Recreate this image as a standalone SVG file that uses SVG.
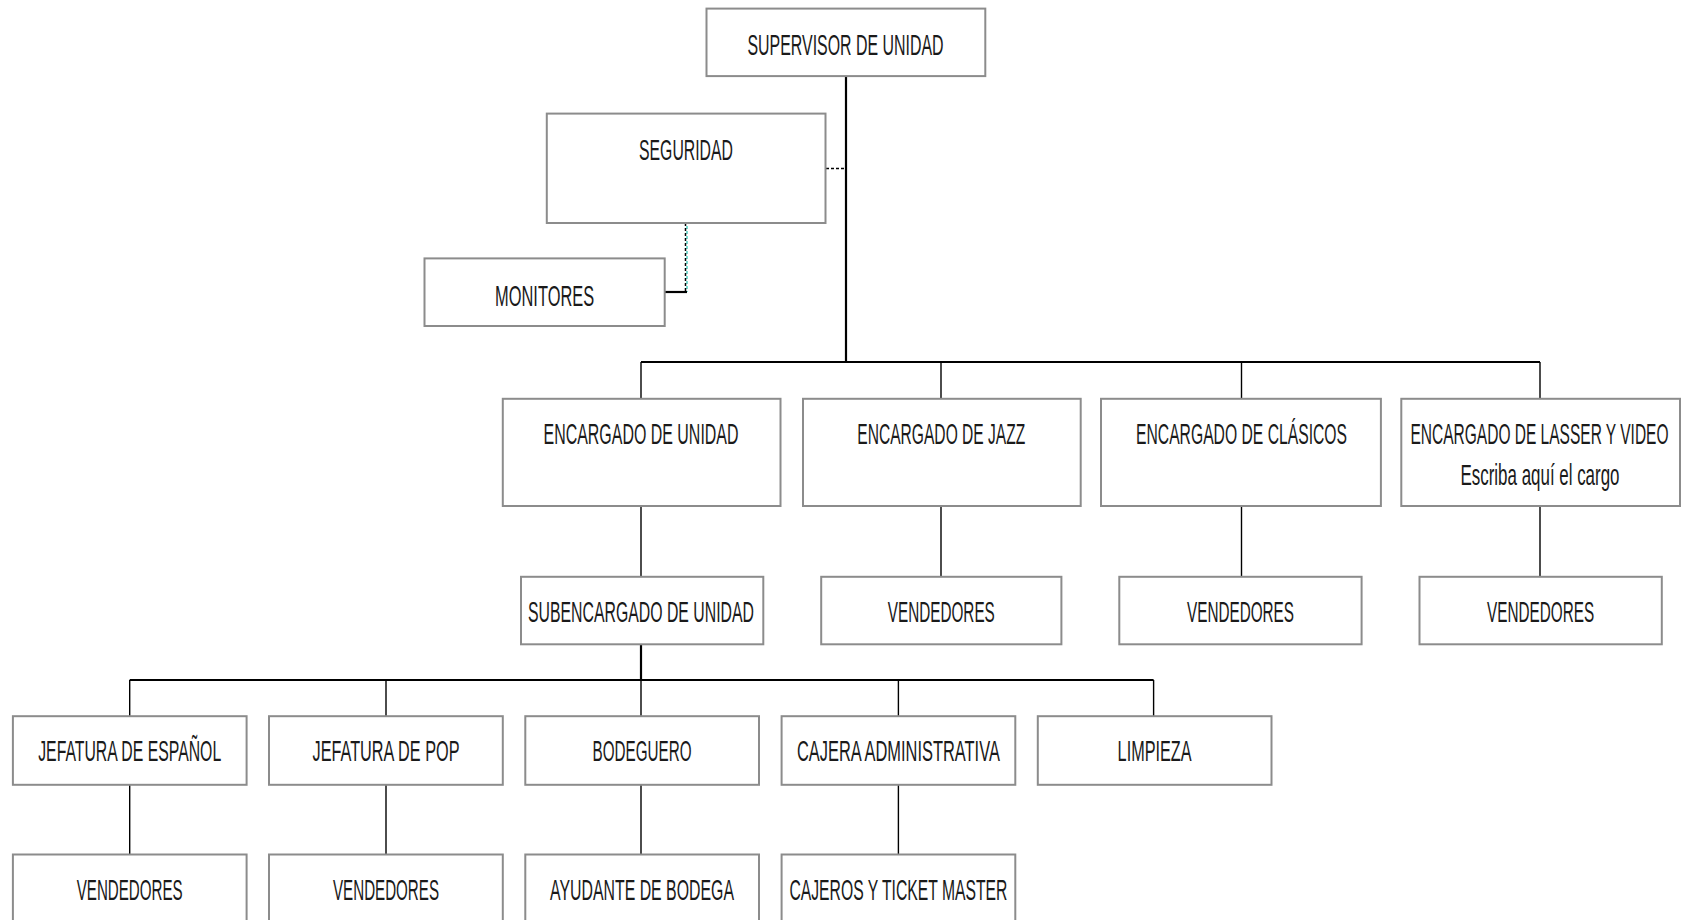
<svg xmlns="http://www.w3.org/2000/svg" width="1681" height="920" viewBox="0 0 1681 920">
<style>
.box{fill:#fff;stroke:#8c8c8c;stroke-width:2}
.t{font-family:"Liberation Sans Narrow","Liberation Sans",Arial,sans-serif;font-size:29px;fill:#1a1a1a;text-anchor:middle}
.c{stroke:#000;fill:none;stroke-width:1.4}
.cb{stroke:#000;fill:none;stroke-width:2.2}
.d{stroke:#000;fill:none;stroke-width:1.5;stroke-dasharray:3 2}
</style>
<rect width="1681" height="920" fill="#fff"/>
<g id="connectors">
<line class="cb" x1="846" y1="76" x2="846" y2="363"/>
<line class="cb" x1="641" y1="362" x2="1540" y2="362"/>
<line class="c" x1="641" y1="362" x2="641" y2="399"/>
<line class="c" x1="941" y1="362" x2="941" y2="399"/>
<line class="c" x1="1241.5" y1="362" x2="1241.5" y2="399"/>
<line class="c" x1="1540" y1="362" x2="1540" y2="399"/>
<line class="c" x1="641" y1="506" x2="641" y2="577"/>
<line class="c" x1="941" y1="506" x2="941" y2="577"/>
<line class="c" x1="1241.5" y1="506" x2="1241.5" y2="577"/>
<line class="c" x1="1540" y1="506" x2="1540" y2="577"/>
<line class="cb" x1="641" y1="644" x2="641" y2="681"/>
<line class="cb" x1="129.7" y1="680" x2="1153.6" y2="680"/>
<line class="c" x1="129.7" y1="680" x2="129.7" y2="716"/>
<line class="c" x1="386" y1="680" x2="386" y2="716"/>
<line class="c" x1="641" y1="680" x2="641" y2="716"/>
<line class="c" x1="898.4" y1="680" x2="898.4" y2="716"/>
<line class="c" x1="1153.6" y1="680" x2="1153.6" y2="716"/>
<line class="c" x1="129.7" y1="785" x2="129.7" y2="855"/>
<line class="c" x1="386" y1="785" x2="386" y2="855"/>
<line class="c" x1="641" y1="785" x2="641" y2="855"/>
<line class="c" x1="898.4" y1="785" x2="898.4" y2="855"/>
<line class="d" x1="826" y1="168.5" x2="846" y2="168.5"/>
<line stroke="#20c0b0" stroke-width="1.2" stroke-dasharray="3 2" stroke-dashoffset="2" x1="687" y1="223" x2="687" y2="292"/>
<line class="d" x1="685.5" y1="223" x2="685.5" y2="292"/>
<line class="cb" x1="665" y1="292" x2="687" y2="292"/>
</g>
<g id="supervisor"><rect class="box" x="706.5" y="8.6" width="278.8" height="67.5"/><text class="t" x="845.5" y="55" textLength="196" lengthAdjust="spacingAndGlyphs">SUPERVISOR DE UNIDAD</text></g>
<g id="seguridad"><rect class="box" x="546.8" y="113.6" width="278.7" height="109.4"/><text class="t" x="686" y="160" textLength="94" lengthAdjust="spacingAndGlyphs">SEGURIDAD</text></g>
<g id="monitores"><rect class="box" x="424.5" y="258.4" width="240.2" height="67.6"/><text class="t" x="544.6" y="305.5" textLength="99" lengthAdjust="spacingAndGlyphs">MONITORES</text></g>
<g id="enc-unidad"><rect class="box" x="502.8" y="398.8" width="277.7" height="107.2"/><text class="t" x="641" y="443.5" textLength="195" lengthAdjust="spacingAndGlyphs">ENCARGADO DE UNIDAD</text></g>
<g id="enc-jazz"><rect class="box" x="803" y="398.8" width="277.7" height="107.2"/><text class="t" x="941.3" y="443.5" textLength="168" lengthAdjust="spacingAndGlyphs">ENCARGADO DE JAZZ</text></g>
<g id="enc-clasicos"><rect class="box" x="1101" y="398.8" width="279.9" height="107.2"/><text class="t" x="1241.5" y="443.5" textLength="211" lengthAdjust="spacingAndGlyphs">ENCARGADO DE CLÁSICOS</text></g>
<g id="enc-lasser"><rect class="box" x="1401.3" y="398.8" width="278.7" height="107.2"/><text class="t" x="1539.5" y="443.5" textLength="258" lengthAdjust="spacingAndGlyphs">ENCARGADO DE LASSER Y VIDEO</text><text class="t" x="1540" y="485" textLength="159" lengthAdjust="spacingAndGlyphs">Escriba aquí el cargo</text></g>
<g id="subencargado"><rect class="box" x="521" y="576.8" width="242.3" height="67.5"/><text class="t" x="641" y="622" textLength="226" lengthAdjust="spacingAndGlyphs">SUBENCARGADO DE UNIDAD</text></g>
<g id="vend-jazz"><rect class="box" x="821.2" y="576.8" width="240.2" height="67.5"/><text class="t" x="941.3" y="622" textLength="107" lengthAdjust="spacingAndGlyphs">VENDEDORES</text></g>
<g id="vend-clasicos"><rect class="box" x="1119.3" y="576.8" width="242.3" height="67.5"/><text class="t" x="1240.5" y="622" textLength="107" lengthAdjust="spacingAndGlyphs">VENDEDORES</text></g>
<g id="vend-lasser"><rect class="box" x="1419.5" y="576.8" width="242.3" height="67.5"/><text class="t" x="1540.6" y="622" textLength="107" lengthAdjust="spacingAndGlyphs">VENDEDORES</text></g>
<g id="jef-espanol"><rect class="box" x="12.9" y="716.2" width="233.7" height="68.6"/><text class="t" x="129.7" y="761" textLength="183" lengthAdjust="spacingAndGlyphs">JEFATURA DE ESPAÑOL</text></g>
<g id="jef-pop"><rect class="box" x="269" y="716.2" width="233.8" height="68.6"/><text class="t" x="386" y="761" textLength="147" lengthAdjust="spacingAndGlyphs">JEFATURA DE POP</text></g>
<g id="bodeguero"><rect class="box" x="525.3" y="716.2" width="233.7" height="68.6"/><text class="t" x="642" y="761" textLength="99" lengthAdjust="spacingAndGlyphs">BODEGUERO</text></g>
<g id="cajera"><rect class="box" x="781.6" y="716.2" width="233.7" height="68.6"/><text class="t" x="898.4" y="761" textLength="203" lengthAdjust="spacingAndGlyphs">CAJERA ADMINISTRATIVA</text></g>
<g id="limpieza"><rect class="box" x="1037.8" y="716.2" width="233.7" height="68.6"/><text class="t" x="1154.6" y="761" textLength="74" lengthAdjust="spacingAndGlyphs">LIMPIEZA</text></g>
<g id="vend-espanol"><rect class="box" x="12.9" y="854.5" width="233.7" height="68.6"/><text class="t" x="129.7" y="900" textLength="106" lengthAdjust="spacingAndGlyphs">VENDEDORES</text></g>
<g id="vend-pop"><rect class="box" x="269" y="854.5" width="233.8" height="68.6"/><text class="t" x="386" y="900" textLength="106" lengthAdjust="spacingAndGlyphs">VENDEDORES</text></g>
<g id="ayudante"><rect class="box" x="525.3" y="854.5" width="233.7" height="68.6"/><text class="t" x="642" y="900" textLength="184" lengthAdjust="spacingAndGlyphs">AYUDANTE DE BODEGA</text></g>
<g id="cajeros"><rect class="box" x="781.6" y="854.5" width="233.7" height="68.6"/><text class="t" x="898.4" y="900" textLength="218" lengthAdjust="spacingAndGlyphs">CAJEROS Y TICKET MASTER</text></g>
</svg>
